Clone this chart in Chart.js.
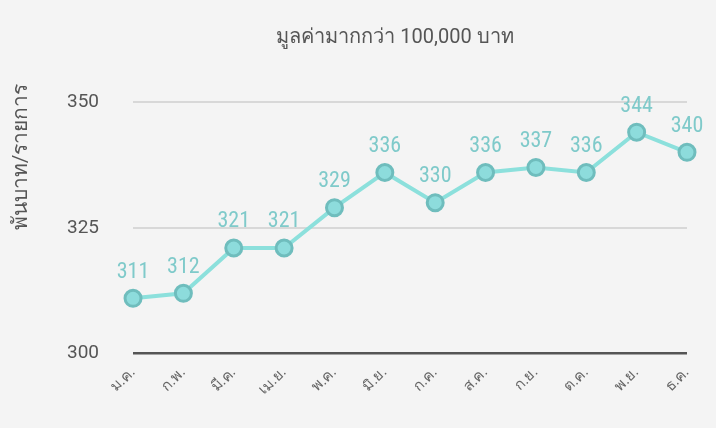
<!DOCTYPE html>
<html>
<head>
<meta charset="utf-8">
<script src="https://cdn.jsdelivr.net/npm/chart.js@4"></script>
<style>
  body { margin: 0; background: #f4f4f4; }
  #wrap { width: 716px; height: 428px; }
</style>
</head>
<body>
<div id="wrap"><canvas id="chart" width="716" height="428"></canvas></div>
<script>
const months = ["ม.ค.", "ก.พ.", "มี.ค.", "เม.ย.", "พ.ค.", "มิ.ย.", "ก.ค.", "ส.ค.", "ก.ย.", "ต.ค.", "พ.ย.", "ธ.ค."];
const values = [311, 312, 321, 321, 329, 336, 330, 336, 337, 336, 344, 340];
const yTicks = [300, 325, 350];
const chartTitle = "มูลค่ามากกว่า 100,000 บาท";
const yTitle = "พันบาท/รายการ";

// draws the number above each point
const pointLabels = {
  id: "pointLabels",
  afterDatasetsDraw(chart) {
    const ctx = chart.ctx;
    const meta = chart.getDatasetMeta(0);
    ctx.save();
    ctx.font = "22px 'Roboto Condensed', Roboto, sans-serif";
    ctx.fillStyle = "#7fcaca";
    ctx.textAlign = "center";
    ctx.textBaseline = "bottom";
    meta.data.forEach((p, i) => {
      ctx.fillText(values[i], p.x, p.y - 15);
    });
    ctx.restore();
  }
};

// titles drawn by hand: the main one sits right of canvas centre,
// the vertical one above the chart area middle
const titles = {
  id: "titles",
  afterDraw(chart) {
    const ctx = chart.ctx;
    ctx.save();
    ctx.fillStyle = "#555";
    ctx.textAlign = "center";
    ctx.textBaseline = "middle";
    ctx.font = "20px Roboto, sans-serif";
    ctx.fillText(chartTitle, 395, 38);
    ctx.translate(22, 157);
    ctx.rotate(-Math.PI / 2);
    ctx.font = "21px Roboto, sans-serif";
    ctx.fillText(yTitle, 0, 0);
    ctx.restore();
  }
};

new Chart(document.getElementById("chart"), {
  type: "line",
  data: {
    labels: months,
    datasets: [
      {
        data: values,
        borderColor: "#8ce0dc",
        borderWidth: 4,
        backgroundColor: "#8ddcdc",
        pointBackgroundColor: "#8ddcdc",
        pointBorderColor: "#6fbdbd",
        pointBorderWidth: 3,
        pointRadius: 8,
        tension: 0
      }
    ]
  },
  options: {
    responsive: false,
    animation: false,
    layout: { padding: { left: 33, right: 29, top: 102, bottom: 19 } },
    plugins: {
      legend: { display: false },
      tooltip: { enabled: false },
      title: { display: false }
    },
    scales: {
      x: {
        offset: false,
        grid: { display: false, drawTicks: false },
        border: { display: false },
        ticks: {
          color: "#666",
          font: { size: 15, family: "Roboto, sans-serif" },
          minRotation: 45,
          maxRotation: 45,
          padding: 10
        }
      },
      y: {
        min: yTicks[0],
        max: yTicks[yTicks.length - 1],
        afterBuildTicks: axis => {
          axis.ticks = yTicks.map(v => ({ value: v }));
        },
        grid: {
          drawTicks: false,
          lineWidth: ctx => (ctx.tick && ctx.tick.value === yTicks[0] ? 2.5 : 2),
          color: ctx => (ctx.tick && ctx.tick.value === yTicks[0] ? "#555" : "#d8d8d8")
        },
        border: { display: false },
        ticks: {
          color: "#555",
          font: { size: 19, family: "Roboto, sans-serif" },
          padding: 34
        }
      }
    }
  },
  plugins: [pointLabels, titles]
});
</script>
</body>
</html>
